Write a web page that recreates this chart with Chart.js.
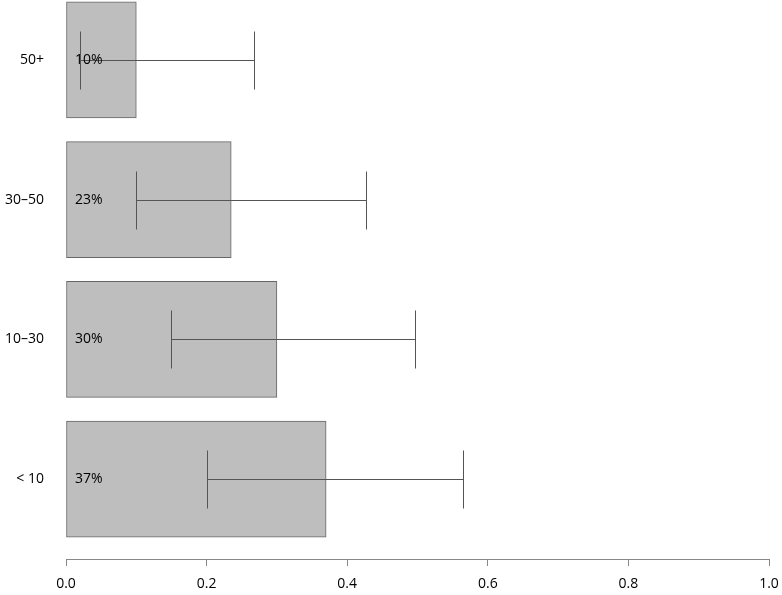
<!DOCTYPE html>
<html lang="en">
<head>
  <meta charset="UTF-8">
  <title>Bars with intervals</title>
  <style>
    body { margin: 0; background: #fff; }
    canvas { display: block; }
  </style>
</head>
<body>
  <canvas id="grafico" width="782" height="595"></canvas>
  <script src="https://cdn.jsdelivr.net/npm/chart.js"></script>
  <script>
    // dados, de baixo para cima
    const categorias = ["< 10", "10–30", "30–50", "50+"];
    const valores = [0.37, 0.30, 0.235, 0.10];
    const limInf = [0.20, 0.15, 0.10, 0.02];
    const limSup = [0.565, 0.497, 0.427, 0.267];
    const rotulos = ["37%", "30%", "23%", "10%"];
    const ticksX = [0, 0.2, 0.4, 0.6, 0.8, 1.0];

    const fonte = "'Open Sans', sans-serif";

    // barras de erro + rótulos dentro das barras
    const extras = {
      id: "extras",
      afterDatasetsDraw(chart) {
        const ctx = chart.ctx;
        const x = chart.scales.x, y = chart.scales.y;
        ctx.save();
        ctx.strokeStyle = "#555";
        ctx.lineWidth = 1;
        limInf.forEach((lo, i) => {
          const yc = Math.round(y.getPixelForValue(i)) + 0.5;
          const x1 = Math.round(x.getPixelForValue(lo)) + 0.5;
          const x2 = Math.round(x.getPixelForValue(limSup[i])) + 0.5;
          const h = 29;
          ctx.beginPath();
          ctx.moveTo(x1, yc); ctx.lineTo(x2, yc);
          ctx.moveTo(x1, yc - h); ctx.lineTo(x1, yc + h);
          ctx.moveTo(x2, yc - h); ctx.lineTo(x2, yc + h);
          ctx.stroke();
        });
        ctx.fillStyle = "#000";
        ctx.font = "14px " + fonte;
        ctx.textAlign = "left";
        ctx.textBaseline = "middle";
        rotulos.forEach((r, i) => {
          ctx.fillText(r, x.getPixelForValue(0) + 9, y.getPixelForValue(i));
        });
        ctx.restore();
      }
    };

    new Chart(document.getElementById("grafico"), {
      type: "bar",
      data: {
        datasets: [{
          data: valores.map((v, i) => ({ x: v, y: i })),
          backgroundColor: "#bebebe",
          borderColor: "#666",
          borderWidth: 1,
          borderSkipped: false,
          barThickness: 116
        }]
      },
      options: {
        indexAxis: "y",
        responsive: false,
        animation: false,
        layout: { padding: { top: 0, right: 13, bottom: 0, left: 0 } },
        plugins: { legend: { display: false }, tooltip: { enabled: false } },
        scales: {
          x: {
            type: "linear",
            min: 0, max: 1,
            afterBuildTicks(s) { s.ticks = ticksX.map(v => ({ value: v })); },
            afterFit(s) { s.height = 36; s.paddingLeft = 0; s.paddingRight = 0; },
            grid: { drawOnChartArea: false, tickLength: 7, color: "#888" },
            border: { color: "#888" },
            ticks: {
              color: "#000",
              font: { family: fonte, size: 14 },
              padding: 10,
              callback: v => v.toFixed(1)
            }
          },
          y: {
            type: "linear",
            offset: false,
            grace: 0,
            min: -0.571, max: 3.4286,
            afterBuildTicks(s) { s.ticks = categorias.map((c, i) => ({ value: i })); },
            afterDataLimits(s) { s.min = -0.571; s.max = 3.4286; },
            afterFit(s) { s.width = 66; s.paddingTop = 0; s.paddingBottom = 0; },
            grid: { display: false, tickLength: 0 },
            border: { display: false },
            ticks: {
              color: "#000",
              font: { family: fonte, size: 14 },
              padding: 22,
              callback: v => categorias[v]
            }
          }
        }
      },
      plugins: [extras]
    });
  </script>
</body>
</html>
